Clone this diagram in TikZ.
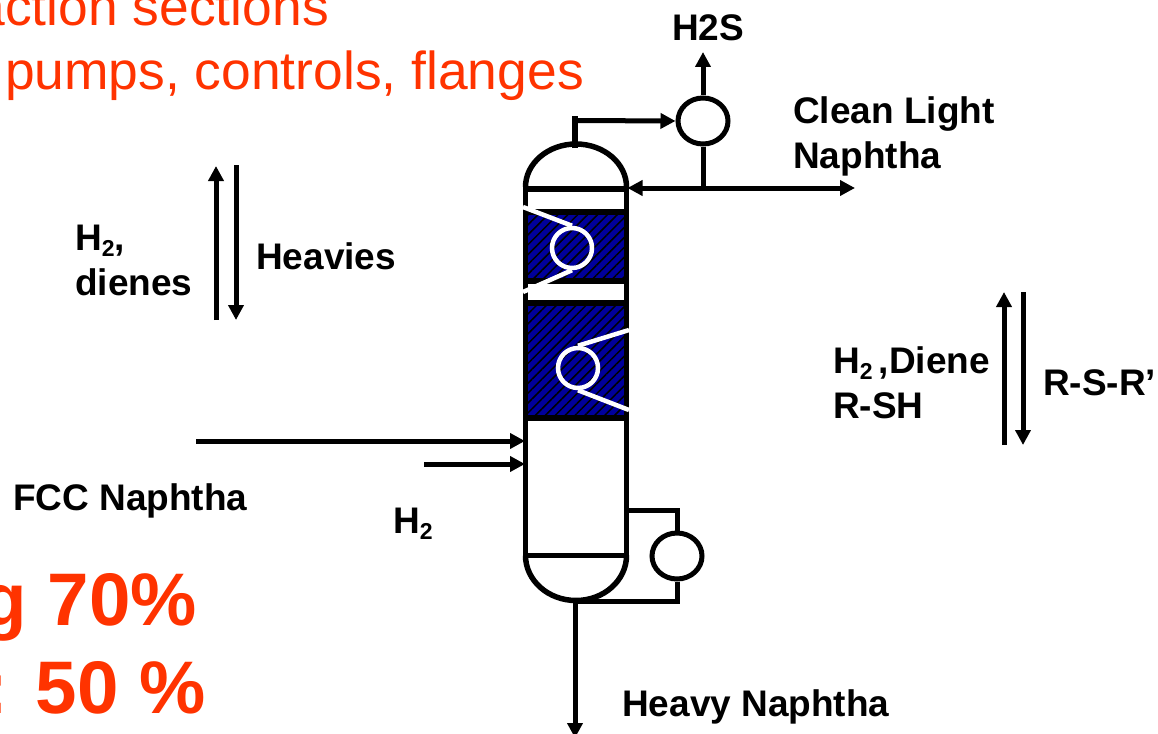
\documentclass[tikz,border=0pt]{standalone}
\usepackage{fontspec}
\setmainfont{Liberation Sans}
\usepackage{xcolor}
\usetikzlibrary{arrows.meta,patterns.meta,shapes.geometric}
\definecolor{slidered}{RGB}{255,51,0}
\definecolor{bedblue}{RGB}{0,0,155}
\newcommand{\subtwo}{\raisebox{-6pt}{\fontsize{23}{23}\selectfont 2}}
\tikzset{
	pipe/.style={line width=5.5pt},
	feed/.style={line width=5pt, -{Triangle[length=15pt,width=15pt]}},
	exchanger/.style={draw, ellipse, line width=5pt, minimum width=50pt, minimum height=46pt, inner sep=0pt},
	coil/.style={draw=white, circle, line width=4.5pt, minimum size=40pt, inner sep=0pt},
	coilline/.style={draw=white, line width=4.5pt},
	bed/.style={pattern={Lines[angle=45,distance=7pt,line width=1.5pt]}, pattern color=black, draw=none},
	label/.style={font=\fontsize{37}{37}\selectfont\bfseries, anchor=base west, inner sep=0pt},
	slide/.style={font=\fontsize{53.4}{54}\selectfont, text=slidered, anchor=base east, inner sep=0pt},
	slidebig/.style={font=\fontsize{74.5}{74.5}\selectfont\bfseries, text=slidered, anchor=base east, inner sep=0pt}
}

\begin{document}
\begin{tikzpicture}[x=1pt, y=-1pt]
\useasboundingbox (0, 0) rectangle (1158, 733);
% Slide text
\node[slide] (lineone) at (329, 26) {action sections};
\node[slide] (linetwo) at (584, 90) {pumps, controls, flanges};
\node[slidebig] (linethree) at (197, 625) {g 70\%};
\node[slidebig] (linefour) at (206, 713) {: 50 \%};
% Catalyst beds
\fill[bedblue] (525.5, 212) rectangle (626.5, 281);
\fill[bedblue] (525.5, 303) rectangle (626.5, 418);
\fill[bed] (525.5, 212) rectangle (626.5, 281);
\fill[bed] (525.5, 303) rectangle (626.5, 418);
% Column
\draw[pipe] (525.5, 187) arc[start angle=180, end angle=360, x radius=50.5, y radius=43];
\draw[pipe] (525.5, 555.5) arc[start angle=180, end angle=0, x radius=50.5, y radius=45];
\draw[pipe] (525.5, 187) -- (525.5, 555.5);
\draw[pipe] (626.5, 187) -- (626.5, 555.5);
\foreach \y in {189, 212, 281, 303, 418, 555.5} {
\draw[pipe] (525.5, \y) -- (626.5, \y);
}
% White coils
\node[coil] (coilone) at (572, 248) {};
\node[coil] (coiltwo) at (578, 368) {};
\coordinate (coilonea) at (523, 207);
\coordinate (coiloneb) at (523, 292);
\coordinate (coiltwoa) at (629, 330);
\coordinate (coiltwob) at (629, 410);
\draw[coilline] (coilonea) -- (coilone.north);
\draw[coilline] (coiloneb) -- (coilone.south);
\draw[coilline] (coiltwoa) -- (coiltwo.north);
\draw[coilline] (coiltwob) -- (coiltwo.south);
% Overhead
\node[exchanger] (condenser) at (703, 121) {};
\coordinate (topstub) at (575, 148);
\coordinate (topbend) at (575, 120.5);
\coordinate (stubend) at (575, 116);
\coordinate (gasout) at (703, 52);
\coordinate (refluxin) at (627.5, 188);
\coordinate (refluxtee) at (703, 188);
\coordinate (lightout) at (855, 188);
\draw[pipe] (topstub) -- (stubend);
\draw[feed] (topbend) -- (condenser.west);
\draw[feed] (condenser.north) -- (gasout);
\draw[line width=5pt] (condenser.south) -- (refluxtee);
\draw[line width=5pt, {Triangle[length=15pt,width=15pt]}-{Triangle[length=15pt,width=15pt]}] (refluxin) -- (lightout);
% Reboiler
\node[exchanger] (reboiler) at (677, 556) {};
\coordinate (reboilin) at (627, 510);
\coordinate (reboilcorner) at (677, 510);
\coordinate (reboilout) at (677, 601);
\coordinate (bottom) at (575, 601);
\coordinate (heavyout) at (575, 738);
\draw[line width=5pt] (reboilin) -- (reboilcorner) -- (reboiler.north);
\draw[line width=5pt] (reboiler.south) -- (reboilout) -- (bottom);
\draw[feed] (bottom) -- (heavyout);
% Feeds
\coordinate (naphthafrom) at (196, 441);
\coordinate (naphthato) at (525, 441);
\coordinate (hydrogenfrom) at (424, 464);
\coordinate (hydrogento) at (525, 464);
\draw[feed] (naphthafrom) -- (naphthato);
\draw[feed] (hydrogenfrom) -- (hydrogento);
% Transfer arrows
\coordinate (leftupa) at (216, 320);
\coordinate (leftupb) at (216, 166);
\coordinate (leftdowna) at (236, 165);
\coordinate (leftdownb) at (236, 320);
\coordinate (rightupa) at (1004, 445);
\coordinate (rightupb) at (1004, 292);
\coordinate (rightdowna) at (1023, 292);
\coordinate (rightdownb) at (1023, 445);
\draw[feed] (leftupa) -- (leftupb);
\draw[feed] (leftdowna) -- (leftdownb);
\draw[feed] (rightupa) -- (rightupb);
\draw[feed] (rightdowna) -- (rightdownb);
% Labels
\node[label] (hts) at (672, 41) {H2S};
\node[label] (cleana) at (793, 124) {Clean Light};
\node[label] (cleanb) at (793, 168) {Naphtha};
\node[label] (hdienesa) at (75, 250) {H\subtwo,};
\node[label] (hdienesb) at (75, 295) {dienes};
\node[label] (heavies) at (256, 269) {Heavies};
\node[label] (hdienea) at (833, 373) {H\subtwo\,,Diene};
\node[label] (rsh) at (833, 418) {R-SH};
\node[label] (rsr) at (1043, 395) {R-S-R’};
\node[label] (fcc) at (13, 510) {FCC Naphtha};
\node[label] (htwo) at (393, 533) {H\subtwo};
\node[label] (heavy) at (622, 716) {Heavy Naphtha};
\end{tikzpicture}
\end{document}
